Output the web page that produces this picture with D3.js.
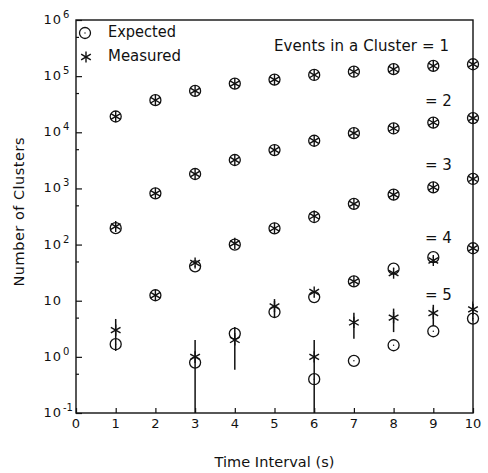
<!DOCTYPE html>
<html>
<head>
<meta charset="utf-8">
<script src="https://cdn.jsdelivr.net/npm/d3@7"></script>
<style>
  html, body { margin: 0; padding: 0; background: #fff; }
  text { font-family: "DejaVu Sans", sans-serif; fill: #111; }
</style>
</head>
<body>
<svg id="chart" width="488" height="473"></svg>
<script>
// ---- data ----
const intervals = [1, 2, 3, 4, 5, 6, 7, 8, 9, 10];
const expected1 = [19100, 37300, 54600, 73600, 86700, 105000, 120000, 133000, 152000, 163000];
const measured1 = [19100, 37300, 54600, 73600, 86700, 105000, 120000, 133000, 152000, 163000];
const expected2 = [196, 818, 1808, 3206, 4830, 7060, 9660, 11700, 14900, 17900];
const measured2 = [210, 818, 1808, 3206, 4830, 7060, 9660, 11700, 14900, 17900];
const expected3 = [1.68, 12.5, 41, 100, 195, 310, 531, 776, 1047, 1474];
const measured3 = [3.0, 12.5, 47, 105, 195, 320, 531, 776, 1047, 1474];
const expected4 = [null, null, 0.79, 2.6, 6.3, 11.6, 22.1, 37.2, 59.7, 86];
const measured4 = [null, null, 1.0, 2.0, 7.9, 14.3, 22.1, 31, 52, 86];
const expected5 = [null, null, null, null, null, 0.40, 0.85, 1.61, 2.86, 4.8];
const measured5 = [null, null, null, null, null, 1.0, 4.1, 5.0, 6.0, 7.0];
// error half-widths on measured counts (visible ones)
const error3 = [1.73, null, null, null, null, null, null, null, null, null];
const error4 = [null, null, 1.0, 1.41, 2.8, null, null, null, null, null];
const error5 = [null, null, null, null, null, 1.0, 2.0, 2.24, 2.45, 2.65];
const seriesLabels = ["Events in a Cluster = 1", "= 2", "= 3", "= 4", "= 5"];
const xTickLabels = ["0", "1", "2", "3", "4", "5", "6", "7", "8", "9", "10"];
const yTickExponents = ["-1", "0", "", "2", "3", "4", "5", "6"];

const series = [
  { exp: expected1, meas: measured1, err: null },
  { exp: expected2, meas: measured2, err: null },
  { exp: expected3, meas: measured3, err: error3 },
  { exp: expected4, meas: measured4, err: error4 },
  { exp: expected5, meas: measured5, err: error5 }
];

// ---- layout ----
const L = 76, R = 473, T = 20, B = 413;
const svg = d3.select("#chart");
const x = d3.scaleLinear().domain([0, 10]).range([L, R]);
const y = d3.scaleLog().domain([0.1, 1e6]).range([B, T]);

svg.append("defs").append("clipPath").attr("id", "plotclip")
  .append("rect").attr("x", L).attr("y", T).attr("width", R - L).attr("height", B - T);

// frame
svg.append("rect").attr("x", L).attr("y", T).attr("width", R - L).attr("height", B - T)
  .attr("fill", "none").attr("stroke", "#111").attr("stroke-width", 1.4);

// y axis ticks (inside)
const majors = d3.range(-1, 7).map(k => Math.pow(10, k));
const minors = d3.range(-1, 6).map(k => 5 * Math.pow(10, k));
const yAxisMajor = d3.axisRight(y).tickValues(majors).tickSize(6).tickFormat("");
const yAxisMinor = d3.axisRight(y).tickValues(minors).tickSize(3).tickFormat("");
[yAxisMajor, yAxisMinor].forEach(ax => {
  const g = svg.append("g").attr("transform", `translate(${L},0)`).call(ax);
  g.select(".domain").remove();
  g.selectAll("line").attr("stroke", "#111").attr("stroke-width", 1.2);
});

// x axis ticks (inside)
const xAxis = d3.axisTop(x).tickValues(d3.range(0, 11)).tickSize(5).tickFormat("");
const gx = svg.append("g").attr("transform", `translate(0,${B})`).call(xAxis);
gx.select(".domain").remove();
gx.selectAll("line").attr("stroke", "#111").attr("stroke-width", 1.2);

// x tick labels
svg.append("g").selectAll("text").data(xTickLabels).join("text")
  .attr("x", (d, i) => x(i)).attr("y", 428)
  .attr("text-anchor", "middle").attr("font-size", 13).text(d => d);

// y tick labels: 10 with superscript exponent
const yl = svg.append("g");
majors.forEach((v, i) => {
  const ty = y(v);
  yl.append("text").attr("x", 62).attr("y", ty + 4).attr("text-anchor", "end")
    .attr("font-size", 13).attr("letter-spacing", 1).text("10");
  if (yTickExponents[i] !== "") {
    yl.append("text").attr("x", 63).attr("y", ty - 2).attr("font-size", 10)
      .text(yTickExponents[i]);
  }
});

// axis titles
svg.append("text").attr("x", (L + R) / 2).attr("y", 467).attr("text-anchor", "middle")
  .attr("font-size", 14.5).attr("textLength", 120).attr("lengthAdjust", "spacing")
  .text("Time Interval (s)");
svg.append("text").attr("transform", "translate(24,212) rotate(-90)").attr("text-anchor", "middle")
  .attr("font-size", 14.5).attr("textLength", 149).attr("lengthAdjust", "spacing")
  .text("Number of Clusters");

// marker helpers
const R_CIRC = 5.5, ARM = 5.6;
function drawCircle(g, cx, cy) {
  g.append("circle").attr("cx", cx).attr("cy", cy).attr("r", R_CIRC)
    .attr("fill", "none").attr("stroke", "#111").attr("stroke-width", 1.3);
  g.append("circle").attr("cx", cx).attr("cy", cy).attr("r", 0.7).attr("fill", "#111");
}
function drawStar(g, cx, cy) {
  [90, 30, -30].forEach(a => {
    const r = a * Math.PI / 180;
    const dx = ARM * Math.cos(r), dy = ARM * Math.sin(r);
    g.append("line").attr("x1", cx - dx).attr("y1", cy - dy).attr("x2", cx + dx).attr("y2", cy + dy)
      .attr("stroke", "#111").attr("stroke-width", 1.4);
  });
}

const plot = svg.append("g");
const bars = svg.append("g").attr("clip-path", "url(#plotclip)");
series.forEach(s => {
  intervals.forEach((t, i) => {
    const e = s.exp[i], m = s.meas[i];
    if (s.err && s.err[i] != null && m != null) {
      const lo = Math.max(m - s.err[i], 0.05), hi = m + s.err[i];
      bars.append("line").attr("x1", x(t)).attr("x2", x(t))
        .attr("y1", y(hi)).attr("y2", Math.min(y(lo), B + 5))
        .attr("stroke", "#111").attr("stroke-width", 1.5);
    }
    if (e != null) drawCircle(plot, x(t), y(e));
    if (m != null) drawStar(plot, x(t), y(m));
  });
});

// series labels
const lab = svg.append("g").attr("font-size", 15);
lab.append("text").attr("x", 449).attr("y", 51).attr("text-anchor", "end")
  .attr("font-size", 15).attr("textLength", 175).attr("lengthAdjust", "spacing")
  .text(seriesLabels[0]);
const labY = [null, 106, 170, 243, 300];
for (let k = 1; k < 5; k++) {
  lab.append("text").attr("x", 425).attr("y", labY[k]).attr("font-size", 15).text(seriesLabels[k]);
}

// legend
const leg = svg.append("g");
drawCircle(leg, 85, 33);
drawStar(leg, 86, 57);
leg.append("text").attr("x", 108).attr("y", 37).attr("font-size", 15)
  .attr("textLength", 68).attr("lengthAdjust", "spacingAndGlyphs").text("Expected");
leg.append("text").attr("x", 108).attr("y", 61).attr("font-size", 15)
  .attr("textLength", 73).attr("lengthAdjust", "spacingAndGlyphs").text("Measured");
</script>
</body>
</html>
